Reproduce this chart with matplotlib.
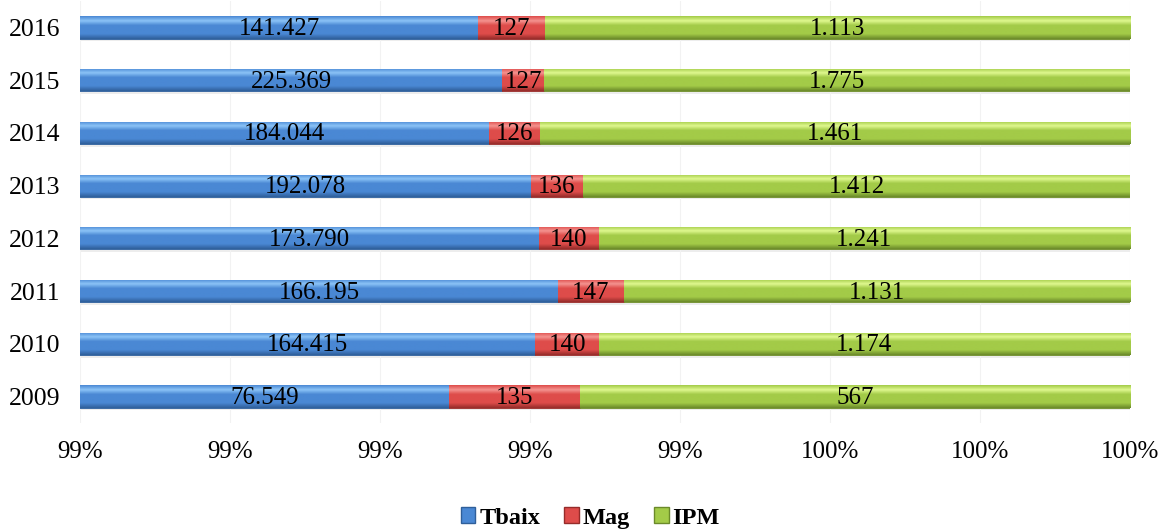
"""Stacked 100% bar chart: Tbaix / Mag / IPM per year (zoomed axis)."""
import matplotlib.pyplot as plt
import numpy as np
from matplotlib.colors import LinearSegmentedColormap
from matplotlib.patches import Patch
from matplotlib.ticker import FuncFormatter, MultipleLocator

years = ["2009", "2010", "2011", "2012", "2013", "2014", "2015", "2016"]
tbaix = [76549, 164415, 166195, 173790, 192078, 184044, 225369, 141427]
mag = [135, 140, 147, 140, 136, 126, 127, 127]
ipm = [567, 1174, 1131, 1241, 1412, 1461, 1775, 1113]

series = [
    ("Tbaix", tbaix, "#4a88d4", "#8cc4f7", "#2f5f9a"),
    ("Mag", mag, "#de4c4a", "#f49490", "#962c2a"),
    ("IPM", ipm, "#a3cb48", "#e0f890", "#6b8a2a"),
]

XMIN, XMAX = 0.986, 1.0

plt.rcParams["font.family"] = ["Liberation Serif", "DejaVu Serif"]

fig = plt.figure(figsize=(11.62, 5.32), dpi=100)
ax = fig.add_axes([0.069, 0.205, 0.9035, 0.793])

y = np.arange(len(years))
totals = np.array(tbaix, float) + np.array(mag) + np.array(ipm)
h = 0.42
grad = np.linspace(0, 1, 64).reshape(-1, 1)

left = np.zeros(len(years))
for name, vals, col, light, dark in series:
    frac = np.array(vals) / totals
    # soft shadow under bar
    ax.barh(y - 0.05, frac, h, left=left, color="#000000", alpha=0.07,
            linewidth=0, zorder=1)
    bars = ax.barh(y, frac, h, left=left, color=col, edgecolor=dark,
                   linewidth=0.6, zorder=2)
    # bevel-like vertical gradient, clipped to each bar
    cmap = LinearSegmentedColormap.from_list(
        name, [(0, dark), (0.22, col), (0.6, col), (0.8, light), (1, col)])
    for b in bars:
        x0, y0 = b.get_x(), b.get_y()
        im = ax.imshow(grad, cmap=cmap, origin="lower", aspect="auto",
                       extent=(max(x0, XMIN), x0 + b.get_width(), y0, y0 + h),
                       zorder=2.5, interpolation="bilinear")
        im.set_clip_path(b)
    for i, v in enumerate(vals):
        start = max(left[i], XMIN)
        end = left[i] + frac[i]
        ax.text((start + end) / 2, y[i] - 0.03, f"{v:,}".replace(",", "."),
                ha="center", va="center", fontsize=18, zorder=5)
    left = left + frac

ax.set_xlim(XMIN, XMAX)
ax.set_ylim(-0.5, len(years) - 0.5)
ax.set_yticks(y)
ax.set_yticklabels(years, fontsize=18.5)
ax.xaxis.set_major_locator(MultipleLocator(0.002))
ax.xaxis.set_major_formatter(FuncFormatter(lambda v, _: f"{v * 100:.0f}%"))
ax.tick_params(axis="x", labelsize=18, length=0, pad=13)
ax.tick_params(axis="y", length=0, pad=14)
ax.grid(axis="x", color="#f2f2f2", linewidth=0.8, zorder=0)
for s in ax.spines.values():
    s.set_visible(False)

handles = [Patch(facecolor=c, edgecolor=d, label=n) for n, _, c, _, d in series]
fig.legend(handles=handles, loc="lower center", ncol=3, frameon=False,
           bbox_to_anchor=(0.508, -0.035), handlelength=0.6, handleheight=0.6,
           handletextpad=0.15, columnspacing=1.0,
           prop={"size": 17.5, "weight": "bold"})

fig.savefig("out.png", dpi=100)
